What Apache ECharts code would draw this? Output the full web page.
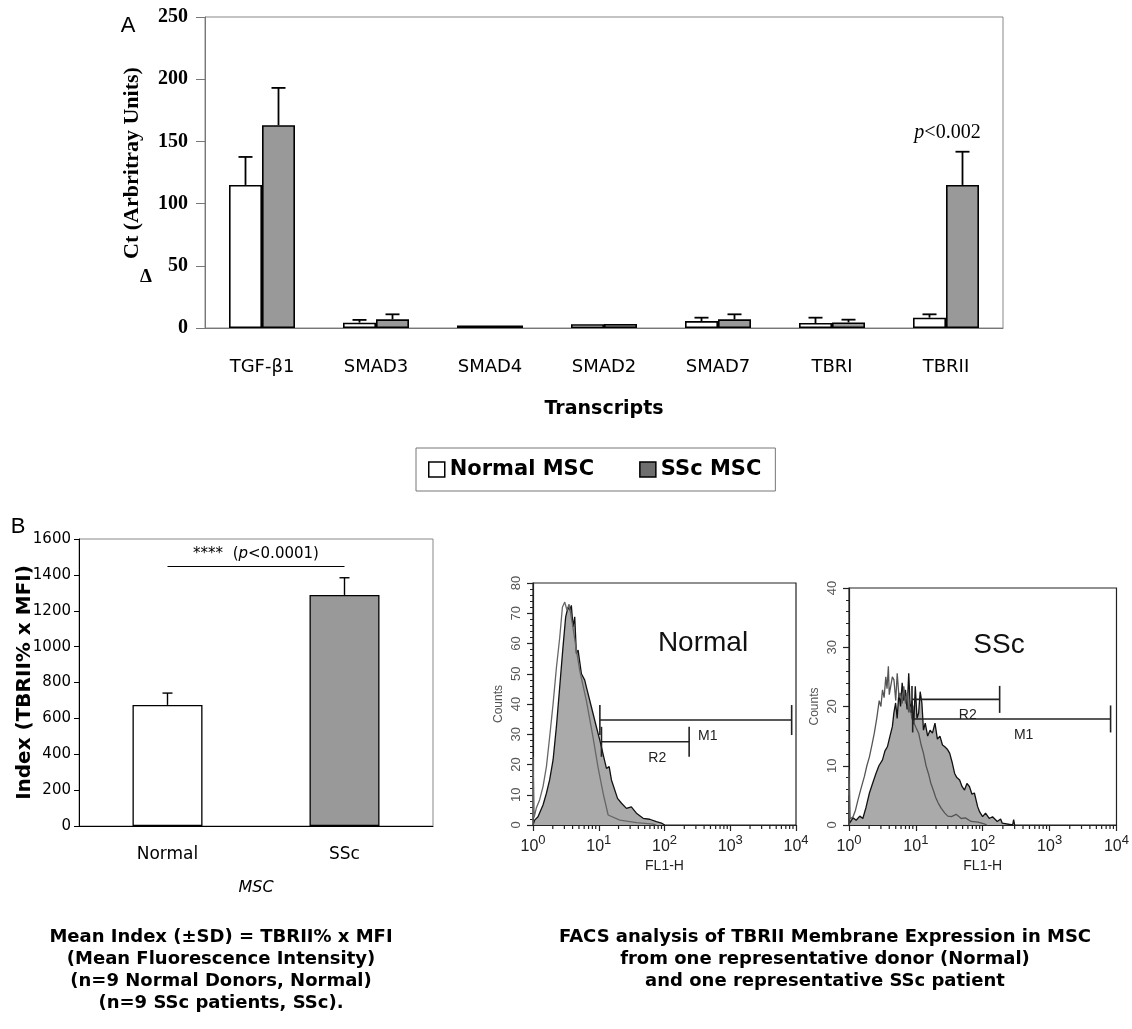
<!DOCTYPE html>
<html><head><meta charset="utf-8">
<script src="https://cdn.jsdelivr.net/npm/echarts@6/dist/echarts.min.js"></script>
<style>html,body{margin:0;padding:0;background:#fff}#c{width:1132px;height:1029px}</style>
</head><body><div id="c"></div>
<script>
// ---------- Panel A : qPCR transcripts ----------
const transcripts = ['TGF-β1','SMAD3','SMAD4','SMAD2','SMAD7','TBRI','TBRII'];
const normalMean = [115, 4.3, 2.0, 3.0, 5.6, 4.0, 8.3];
const normalSD   = [22.5, 2.2, 0, 0, 2.7, 4.3, 2.7];
const sscMean    = [163, 7.0, 2.0, 3.2, 7.0, 4.5, 115];
const sscSD      = [30, 4.0, 0, 0, 4.0, 2.2, 26.7];
const pAnnotation = {category: 'TBRII', value: 157};

// ---------- Panel B : TBRII index ----------
const groupsB = ['Normal', 'SSc'];
const indexMean = [675, 1288];
const indexSD = [66, 96];
const sigBracketValue = 1450;

// ---------- FACS histograms (FL1-H, counts) ----------
const normalFilled = [[1.0,0],[1.06,1.6],[1.19,2.75],[1.42,6.6],[1.6,10.5],[1.79,14.9],[2.02,21.5],[2.27,32.5],[2.55,45.7],[2.86,58.9],[3.14,68.8],[3.41,72],[3.62,71],[3.83,72.6],[4.06,65.5],[4.31,68.8],[4.57,56.7],[4.85,57.8],[5.45,50],[6.12,47.9],[6.49,45.6],[7.73,39],[9.21,32.4],[10.4,28],[11.9,22.5],[13.1,18.7],[14.4,19.3],[15.6,14.9],[19.3,8.8],[22.2,7.2],[26.4,5.5],[31.3,6],[37.4,3.9],[47.3,2.2],[59.6,1.9],[75.3,1.1],[90,0.6],[101,0]];
const normalControl = [[1.0,0],[1.0,22.5],[1.04,2.5],[1.12,5.5],[1.26,8.3],[1.42,12.7],[1.6,19.3],[1.79,29],[2.02,40],[2.27,52],[2.55,62],[2.8,72],[3.04,73.7],[3.29,71],[3.53,73],[3.97,66.6],[4.57,57.8],[5.14,51],[6.49,41],[8.19,29],[9.77,19],[11.65,10.5],[13.9,3.3],[20.9,1.6],[37.6,0.8],[67.2,0.3],[75,0]];
const sscFilled = [[1.0,0],[1.0,5],[1.02,0.3],[1.15,1.2],[1.28,0.8],[1.45,1.5],[1.61,1.1],[1.8,3],[2.02,5.4],[2.25,7],[2.53,8.7],[2.8,10],[3.17,11],[3.45,12.5],[3.75,13.2],[4.1,15],[4.45,16.6],[4.7,19],[4.98,20.6],[5.25,18],[5.57,22.3],[5.9,20],[6.24,24],[6.6,21],[6.98,22.8],[7.4,19.5],[7.82,25.6],[8.3,19],[8.75,21],[9.3,17],[9.8,23.4],[10.4,18],[11.0,18.9],[11.6,22.5],[12.3,20.6],[13,16],[13.8,17.2],[15,15],[16.3,16],[17.7,15.5],[19.3,17.2],[21,14.5],[22.9,15],[25,13.5],[27.1,13.2],[29.5,12.8],[32.1,12.1],[35,10.5],[38,8.7],[41,8],[45.1,7.6],[49,6.5],[53.4,5.9],[58,7],[63.2,6.5],[69,5.2],[75,5.4],[83.9,3.1],[90,2.2],[99.5,1.4],[110,2],[125,1.1],[140,1.4],[165,0.6],[185,1],[196,0.3],[200,0],[280,0],[290,0.9],[300,0]];
const sscControl = [[1.0,0],[1.0,9.3],[1.04,1],[1.15,1.4],[1.25,2.5],[1.36,4.2],[1.5,6],[1.7,8.2],[1.85,10],[2.02,11.5],[2.2,13.5],[2.39,15.5],[2.6,18],[2.83,21],[3.0,20],[3.17,22.8],[3.35,21.5],[3.55,25],[3.7,23],[3.88,26.8],[4.0,22],[4.2,22.3],[4.45,25],[4.7,24.5],[5.0,21],[5.26,25.6],[5.6,21.5],[5.9,22.3],[6.25,20.5],[6.6,23.4],[7.0,20.5],[7.39,22.3],[7.8,19],[8.27,20],[8.7,18],[9.27,18.3],[10,16.5],[11,15.5],[12,13.5],[13,12.1],[14.2,10],[15.4,8.7],[16.8,7],[18.2,5.9],[20,4.5],[21.6,3.7],[24,2.8],[27.1,2],[30,1.5],[34,1.4],[40,1.8],[47.7,1.1],[55,1.2],[67,0.6],[85,0.5],[105,0.2],[115,0]];
// gates: [label, from, to, count level]
const normalGates = [['M1', 10.4, 8590, 34.7], ['R2', 11, 237, 27.5]];
const sscGates = [['R2', 8.75, 179, 21.2], ['M1', 8.96, 8160, 17.9]];
const logMinorTicks = [2,3,4,5,6,7,8,9,20,30,40,50,60,70,80,90,200,300,400,500,600,700,800,900,2000,3000,4000,5000,6000,7000,8000,9000];

// ---------- styles ----------
const COMIC = 'DejaVu Sans';
const SERIF = 'Liberation Serif';
const HELV = 'Liberation Sans';
const BAR_A = 33, BAR_B = 70;

const chart = echarts.init(document.getElementById('c'), null, {renderer: 'canvas'});

function errRender(offsets, capHalf, lw) {
  return function (params, api) {
    const ci = api.value(0), m = api.value(1), sd = api.value(2);
    if (!sd) return;
    const off = offsets[api.value(3)];
    const b = api.coord([ci, m]), t = api.coord([ci, m + sd]);
    const x = b[0] + off;
    return {type: 'group', children: [
      {type: 'line', shape: {x1: x, y1: b[1], x2: x, y2: t[1]}, style: {stroke: '#000', lineWidth: lw}},
      {type: 'line', shape: {x1: x - capHalf, y1: t[1], x2: x + capHalf, y2: t[1]}, style: {stroke: '#000', lineWidth: lw}}
    ]};
  };
}

function gateRender(gates, capHalf) {
  return function (params, api) {
    const g = gates[params.dataIndex];
    const a = api.coord([g[1], g[3]]), b = api.coord([g[2], g[3]]);
    const mid = api.coord([Math.sqrt(g[1] * g[2]), g[3]]);
    const st = {stroke: '#222', lineWidth: 1.6};
    return {type: 'group', children: [
      {type: 'line', shape: {x1: a[0], y1: a[1], x2: b[0], y2: b[1]}, style: st},
      {type: 'line', shape: {x1: a[0], y1: a[1] - capHalf, x2: a[0], y2: a[1] + capHalf}, style: st},
      {type: 'line', shape: {x1: b[0], y1: b[1] - capHalf, x2: b[0], y2: b[1] + capHalf}, style: st},
      {type: 'text', x: mid[0] + 12, y: mid[1] + 16, style: {text: g[0], font: '14px ' + HELV, fill: '#222', align: 'center', verticalAlign: 'middle', textAlign: 'center', textVerticalAlign: 'middle'}}
    ]};
  };
}

function minorTickRender(params, api) {
  const p = api.coord([api.value(0), 0]);
  return {type: 'line', shape: {x1: p[0], y1: p[1], x2: p[0], y2: p[1] + 4}, style: {stroke: '#222', lineWidth: 1.2}};
}

const facsX = (gi) => ({
  type: 'log', logBase: 10, min: 1, max: 10000, gridIndex: gi,
  name: 'FL1-H', nameLocation: 'middle', nameGap: 34,
  nameTextStyle: {fontFamily: HELV, fontSize: 14, color: '#222'},
  axisLine: {lineStyle: {color: '#222', width: 1.2}},
  axisTick: {length: 6, lineStyle: {color: '#222', width: 1.2}},
  splitLine: {show: false}, minorTick: {show: false},
  axisLabel: {margin: 9, formatter: v => '{a|10}{b|' + Math.round(Math.log10(v)) + '}',
    rich: {a: {fontFamily: HELV, fontSize: 16, color: '#222'}, b: {fontFamily: HELV, fontSize: 13, color: '#222', padding: [0, 0, 12, 0]}}}
});
const facsY = (gi, max) => ({
  type: 'value', min: 0, max: max, interval: 10, gridIndex: gi,
  name: 'Counts', nameLocation: 'middle', nameGap: 28, nameRotate: 90,
  nameTextStyle: {fontFamily: HELV, fontSize: 12, color: '#555'},
  axisLine: {show: true, lineStyle: {color: '#222', width: 1.2}},
  axisTick: {show: true, length: 6, lineStyle: {color: '#222', width: 1.2}},
  minorTick: {show: true, splitNumber: 5, length: 3, lineStyle: {color: '#222', width: 1}},
  splitLine: {show: false},
  axisLabel: {rotate: 90, margin: 10, fontFamily: HELV, fontSize: 13, color: '#555'}
});

const captionStyle = (text) => ({text: text, font: 'bold 18px ' + COMIC, fill: '#000', align: 'center', verticalAlign: 'middle', textAlign: 'center', textVerticalAlign: 'middle'});

const option = {
  animation: false,
  backgroundColor: '#fff',
  grid: [
    {left: 205, top: 17, width: 798, height: 311, show: true, borderColor: '#888', borderWidth: 1},
    {left: 79, top: 539, width: 354, height: 287, show: true, borderColor: '#888', borderWidth: 1},
    {left: 533, top: 583, width: 263, height: 242, show: true, borderColor: '#222', borderWidth: 1.2},
    {left: 849, top: 588, width: 272, height: 237, show: true, borderColor: '#222', borderWidth: 1.2}
  ],
  legend: {
    left: 416, top: 448, orient: 'horizontal', itemGap: 45, itemWidth: 16, itemHeight: 15,
    padding: [11, 14, 11, 12], borderColor: '#777', borderWidth: 1, icon: 'rect',
    textStyle: {fontFamily: COMIC, fontWeight: 'bold', fontSize: 21, color: '#000'},
    data: [
      {name: 'Normal MSC', itemStyle: {color: '#fff', borderColor: '#000', borderWidth: 1.5}},
      {name: 'SSc MSC', itemStyle: {color: '#6e6e6e', borderColor: '#000', borderWidth: 1.5}}
    ]
  },
  xAxis: [
    {type: 'category', data: transcripts, gridIndex: 0,
      name: 'Transcripts', nameLocation: 'middle', nameGap: 72,
      nameTextStyle: {fontFamily: COMIC, fontWeight: 'bold', fontSize: 19, color: '#000'},
      axisLine: {lineStyle: {color: '#777', width: 1}},
      axisTick: {length: 8, lineStyle: {color: '#777'}},
      axisLabel: {margin: 30, fontFamily: COMIC, fontSize: 18, color: '#000'}},
    {type: 'category', data: groupsB, gridIndex: 1,
      name: 'MSC', nameLocation: 'middle', nameGap: 54,
      nameTextStyle: {fontFamily: COMIC, fontStyle: 'italic', fontSize: 16, color: '#000'},
      axisLine: {lineStyle: {color: '#000', width: 1}},
      axisTick: {length: 5, lineStyle: {color: '#000'}},
      axisLabel: {margin: 20, fontFamily: COMIC, fontSize: 17, color: '#000'}},
    facsX(2), facsX(3)
  ],
  yAxis: [
    {type: 'value', min: 0, max: 250, interval: 50, gridIndex: 0,
      axisLine: {show: true, lineStyle: {color: '#777', width: 1}},
      axisTick: {show: true, length: 9, lineStyle: {color: '#777'}},
      splitLine: {show: false},
      axisLabel: {margin: 17, fontFamily: SERIF, fontWeight: 'bold', fontSize: 20, color: '#000'}},
    {type: 'value', min: 0, max: 1600, interval: 200, gridIndex: 1,
      name: 'Index (TBRII% x MFI)', nameLocation: 'middle', nameGap: 44, nameRotate: 90, nameMoveOverlap: false,
      nameTextStyle: {fontFamily: COMIC, fontWeight: 'bold', fontSize: 20, color: '#000'},
      axisLine: {show: true, lineStyle: {color: '#000', width: 1}},
      axisTick: {show: true, length: 5, lineStyle: {color: '#000'}},
      splitLine: {show: false},
      axisLabel: {margin: 8, fontFamily: COMIC, fontSize: 15, color: '#000', formatter: v => String(v)}},
    facsY(2, 80), facsY(3, 40)
  ],
  series: [
    {name: 'Normal MSC', type: 'bar', xAxisIndex: 0, yAxisIndex: 0, data: normalMean,
      barWidth: BAR_A, barGap: '0%', itemStyle: {color: '#fff', borderColor: '#000', borderWidth: 1.6}},
    {name: 'SSc MSC', type: 'bar', xAxisIndex: 0, yAxisIndex: 0, data: sscMean,
      barWidth: BAR_A, barGap: '0%', itemStyle: {color: '#999', borderColor: '#000', borderWidth: 1.6},
      markPoint: {symbol: 'circle', symbolSize: 1, itemStyle: {color: 'rgba(0,0,0,0)'},
        label: {show: true, position: 'inside', offset: [-15, 0], formatter: '{i|p}{n|<0.002}',
          rich: {i: {fontFamily: SERIF, fontStyle: 'italic', fontSize: 20, color: '#000'}, n: {fontFamily: SERIF, fontSize: 20, color: '#000'}}},
        data: [{coord: [pAnnotation.category, pAnnotation.value]}]}},
    {type: 'custom', xAxisIndex: 0, yAxisIndex: 0, z: 5,
      renderItem: errRender([-BAR_A / 2, BAR_A / 2], 7, 1.8),
      data: transcripts.map((t, i) => [i, normalMean[i], normalSD[i], 0]).concat(transcripts.map((t, i) => [i, sscMean[i], sscSD[i], 1]))},
    {name: 'Index', type: 'bar', xAxisIndex: 1, yAxisIndex: 1, barWidth: BAR_B,
      data: indexMean.map((v, i) => ({value: v, itemStyle: {color: ['#fff', '#999'][i]}})),
      itemStyle: {borderColor: '#000', borderWidth: 1.3},
      markLine: {symbol: 'none', silent: true, lineStyle: {color: '#000', width: 1, type: 'solid'},
        label: {show: true, position: 'insideMiddleTop', distance: 4, formatter: '{n|****  (}{i|p}{n|<0.0001)}',
          rich: {n: {fontFamily: COMIC, fontSize: 15, color: '#000'}, i: {fontFamily: COMIC, fontStyle: 'italic', fontSize: 15, color: '#000'}}},
        data: [[{coord: ['Normal', sigBracketValue]}, {coord: ['SSc', sigBracketValue]}]]}},
    {type: 'custom', xAxisIndex: 1, yAxisIndex: 1, z: 5,
      renderItem: errRender([0, 0], 5, 1.4),
      data: groupsB.map((g, i) => [i, indexMean[i], indexSD[i], 0])},
    // FACS normal
    {type: 'line', xAxisIndex: 2, yAxisIndex: 2, data: normalFilled, symbol: 'none',
      lineStyle: {color: '#111', width: 1.3}, areaStyle: {color: '#aaaaaa', opacity: 1}},
    {type: 'line', xAxisIndex: 2, yAxisIndex: 2, data: normalControl, symbol: 'none',
      lineStyle: {color: '#666', width: 1.3}},
    {type: 'custom', xAxisIndex: 2, yAxisIndex: 2, z: 6, renderItem: gateRender(normalGates, 15),
      data: normalGates.map(g => [g[1], g[3]])},
    {type: 'custom', xAxisIndex: 2, yAxisIndex: 2, renderItem: minorTickRender,
      data: logMinorTicks.map(v => [v, 0])},
    // FACS SSc
    {type: 'line', xAxisIndex: 3, yAxisIndex: 3, data: sscFilled, symbol: 'none',
      lineStyle: {color: '#111', width: 1.3}, areaStyle: {color: '#aaaaaa', opacity: 1}},
    {type: 'line', xAxisIndex: 3, yAxisIndex: 3, data: sscControl, symbol: 'none',
      lineStyle: {color: '#555', width: 1.3}},
    {type: 'custom', xAxisIndex: 3, yAxisIndex: 3, z: 6, renderItem: gateRender(sscGates, 13.5),
      data: sscGates.map(g => [g[1], g[3]])},
    {type: 'custom', xAxisIndex: 3, yAxisIndex: 3, renderItem: minorTickRender,
      data: logMinorTicks.map(v => [v, 0])}
  ],
  graphic: [
    {type: 'text', x: 128, y: 26, style: {text: 'A', font: '22px ' + HELV, fill: '#000', align: 'center', verticalAlign: 'middle', textAlign: 'center', textVerticalAlign: 'middle'}},
    {type: 'text', x: 132, y: 163, rotation: Math.PI / 2, style: {text: 'Ct (Arbritray Units)', font: 'bold 22px ' + SERIF, fill: '#000', align: 'center', verticalAlign: 'middle', textAlign: 'center', textVerticalAlign: 'middle'}},
    {type: 'text', x: 146, y: 277, style: {text: 'Δ', font: 'bold 19px ' + SERIF, fill: '#000', align: 'center', verticalAlign: 'middle', textAlign: 'center', textVerticalAlign: 'middle'}},
    {type: 'text', x: 18, y: 527, style: {text: 'B', font: '22px ' + HELV, fill: '#000', align: 'center', verticalAlign: 'middle', textAlign: 'center', textVerticalAlign: 'middle'}},
    {type: 'text', x: 703, y: 643, style: {text: 'Normal', font: '28px ' + HELV, fill: '#111', align: 'center', verticalAlign: 'middle', textAlign: 'center', textVerticalAlign: 'middle'}},
    {type: 'text', x: 999, y: 645, style: {text: 'SSc', font: '28px ' + HELV, fill: '#111', align: 'center', verticalAlign: 'middle', textAlign: 'center', textVerticalAlign: 'middle'}},
    {type: 'text', x: 221, y: 937, style: captionStyle('Mean Index (±SD) = TBRII% x MFI')},
    {type: 'text', x: 221, y: 959, style: captionStyle('(Mean Fluorescence Intensity)')},
    {type: 'text', x: 221, y: 981, style: captionStyle('(n=9 Normal Donors, Normal)')},
    {type: 'text', x: 221, y: 1003, style: captionStyle('(n=9 SSc patients, SSc).')},
    {type: 'text', x: 825, y: 937, style: captionStyle('FACS analysis of TBRII Membrane Expression in MSC')},
    {type: 'text', x: 825, y: 959, style: captionStyle('from one representative donor (Normal)')},
    {type: 'text', x: 825, y: 981, style: captionStyle('and one representative SSc patient')}
  ]
};
chart.setOption(option);
</script>
</body></html>
